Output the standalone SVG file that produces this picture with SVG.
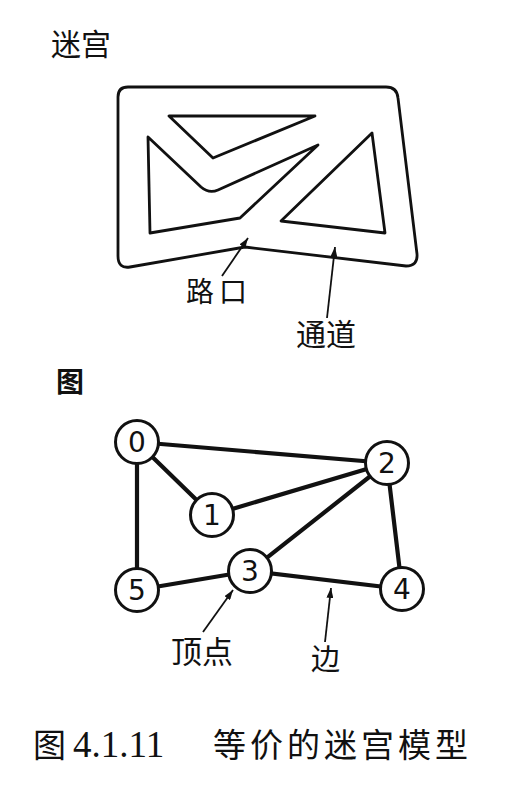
<svg xmlns="http://www.w3.org/2000/svg" width="519" height="794" viewBox="0 0 519 794">
<style>
.maze{fill:none;stroke:#111;stroke-width:2.8;stroke-linejoin:round}
.arr{fill:none;stroke:#111;stroke-width:1.8}
.edge{stroke:#111;stroke-width:4.2;stroke-linecap:round}
.node circle{fill:#fff;stroke:#111;stroke-width:3}
.node text{font-family:"DejaVu Sans",sans-serif;font-size:28px;fill:#111;text-anchor:middle}
.lbl{font-family:"Noto Sans CJK SC",sans-serif;fill:#111}
.cap{font-family:"Liberation Serif","Noto Sans CJK SC",serif;font-size:37px;fill:#111}
.capc{font-family:"Noto Sans CJK SC",sans-serif;font-size:33px;letter-spacing:4px}
</style>
<defs>
<marker id="ah" markerUnits="userSpaceOnUse" markerWidth="10" markerHeight="7" refX="10" refY="3.5" orient="auto">
<path d="M0,0 L10,3.5 L0,7 Z" fill="#111"/>
</marker>
</defs>
<rect width="519" height="794" fill="#fff"/>
<text class="lbl" x="51" y="55" font-size="30">迷宫</text>
<g id="maze">
<path class="maze" d="M118,97 Q118,87 128,87 L386,87 Q397,87 398,98 L417,254 Q418,266 406,266 L245,247 L130,267 Q118,269 118,256 Z"/>
<path class="maze" d="M169,116 L315,116 L213,158 Z"/>
<path class="maze" d="M148,137 L201,187 Q209,194 218,190 L318,145 L240,218 L150,233 Z"/>
<path class="maze" d="M372,133 L385,233 L281,221 Z"/>
</g>
<g id="maze-arrows">
<line class="arr" x1="222" y1="276" x2="248" y2="238" marker-end="url(#ah)"/>
<line class="arr" x1="327" y1="318" x2="335" y2="247" marker-end="url(#ah)"/>
</g>
<text class="lbl" x="186" y="302" font-size="28" letter-spacing="5">路口</text>
<text class="lbl" x="296" y="345" font-size="30">通道</text>
<text class="lbl" x="56" y="392" font-size="28" font-weight="700">图</text>
<g id="connectors">
<line class="edge" x1="137" y1="442" x2="387" y2="463"/>
<line class="edge" x1="137" y1="442" x2="212" y2="515"/>
<line class="edge" x1="137" y1="442" x2="137" y2="590"/>
<line class="edge" x1="212" y1="515" x2="387" y2="463"/>
<line class="edge" x1="387" y1="463" x2="250" y2="571"/>
<line class="edge" x1="387" y1="463" x2="402" y2="589"/>
<line class="edge" x1="137" y1="590" x2="250" y2="571"/>
<line class="edge" x1="250" y1="571" x2="402" y2="589"/>
</g>
<g id="node0" class="node"><circle cx="137" cy="442" r="21.5"/><text x="137" y="452">0</text></g>
<g id="node1" class="node"><circle cx="212" cy="515" r="21.5"/><text x="212" y="525">1</text></g>
<g id="node2" class="node"><circle cx="387" cy="463" r="21.5"/><text x="387" y="473">2</text></g>
<g id="node3" class="node"><circle cx="250" cy="571" r="21.5"/><text x="250" y="581">3</text></g>
<g id="node4" class="node"><circle cx="402" cy="589" r="21.5"/><text x="402" y="599">4</text></g>
<g id="node5" class="node"><circle cx="137" cy="590" r="21.5"/><text x="137" y="600">5</text></g>
<g id="graph-arrows">
<line class="arr" x1="203" y1="632" x2="233" y2="590" marker-end="url(#ah)"/>
<line class="arr" x1="325" y1="642" x2="331" y2="588" marker-end="url(#ah)"/>
</g>
<text class="lbl" x="171" y="663" font-size="31">顶点</text>
<text class="lbl" x="311" y="670" font-size="29">边</text>
<text class="cap" y="757"><tspan class="capc" x="33">图</tspan><tspan x="73">4.1.11</tspan><tspan class="capc" x="213">等价的迷宫模型</tspan></text>
</svg>
